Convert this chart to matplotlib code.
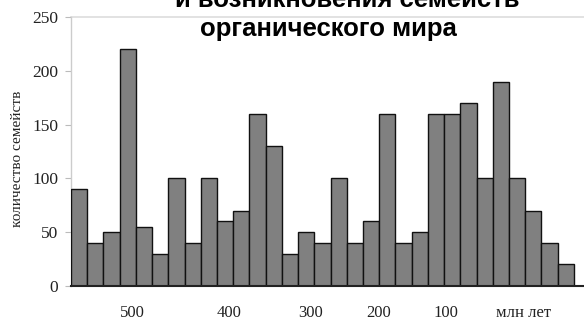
import matplotlib
matplotlib.use('Agg')
import matplotlib.pyplot as plt
import numpy as np

# number of families per interval, oldest to youngest
counts = [90, 40, 50, 220, 55, 30, 100, 40, 100, 60, 70, 160, 130, 30, 50,
          40, 100, 40, 60, 160, 40, 50, 160, 160, 170, 100, 190, 100, 70, 40, 20]

# age labels and their positions (in bar units)
age_labels = ['500', '400', '300', '200', '100', 'млн лет']
age_pos = [3.3, 9.25, 14.25, 18.45, 22.6, 27.4]

y_ticks = [0, 50, 100, 150, 200, 250]

serif = ['Liberation Serif', 'DejaVu Serif']
sans = ['Liberation Sans', 'DejaVu Sans']

fig = plt.figure(figsize=(5.84, 3.22), dpi=100)
ax = fig.add_axes([71 / 584, 1 - 286 / 322, 1 - 71 / 584, (286 - 17) / 322])

x = np.arange(len(counts))
ax.bar(x, counts, width=1.0, color='#808080', edgecolor='#111111',
       linewidth=1.0, zorder=3)

ax.set_xlim(-0.5, len(counts) - 0.5 + 0.62)
ax.set_ylim(0, 250)

ax.set_yticks(y_ticks)
ax.set_yticklabels([str(v) for v in y_ticks], family=serif, fontsize=12.5,
                   color='#222222')
ax.tick_params(axis='y', length=4, width=0.8, color='#bbbbbb', pad=5)

ax.set_xticks(age_pos)
ax.set_xticklabels(age_labels, family=serif, fontsize=12, color='#222222')
ax.tick_params(axis='x', length=0, pad=14)

# only the top grid line is visible
ax.axhline(250, color='#dddddd', linewidth=1.2, zorder=1, clip_on=False)

for side in ['top', 'right']:
    ax.spines[side].set_visible(False)
ax.spines['left'].set_color('#cccccc')
ax.spines['left'].set_linewidth(1.0)
ax.spines['bottom'].set_color('#222222')
ax.spines['bottom'].set_linewidth(1.5)
ax.spines['bottom'].set_zorder(4)

fig.text(18 / 584, 1 - 159 / 322, 'количество семейств', rotation=90,
         ha='center', va='center', family=serif, fontsize=11, color='#222222')

# title, cut at the top of the picture
fig.text(175 / 584, 1 - 7 / 322, 'и возникновения семейств', ha='left',
         va='baseline', family=sans, fontweight='bold', fontsize=18.5,
         color='black')
fig.text(200 / 584, 1 - 36 / 322, 'органического мира', ha='left',
         va='baseline', family=sans, fontweight='bold', fontsize=18.5,
         color='black')

fig.savefig('out.png', dpi=100)
